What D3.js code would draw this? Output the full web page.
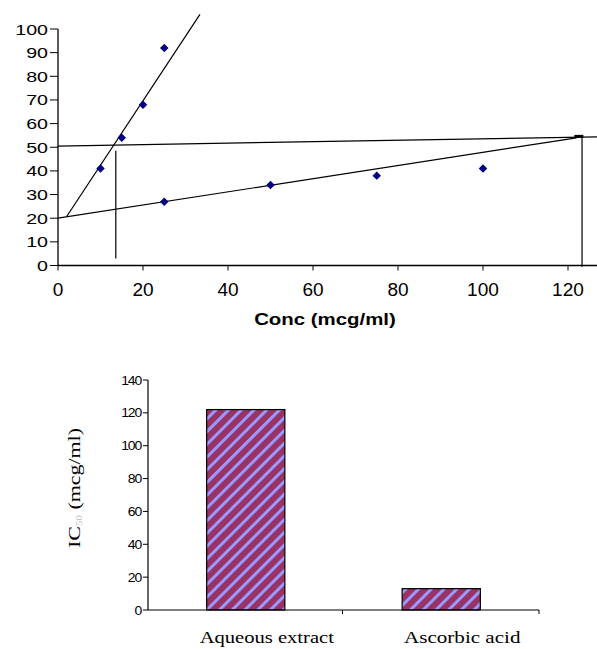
<!DOCTYPE html>
<html>
<head>
<meta charset="utf-8">
<script src="https://cdn.jsdelivr.net/npm/d3@7"></script>
<style>
  body { margin: 0; background: #fff; }
  svg { display: block; }
</style>
</head>
<body>
<div id="chart"></div>
<script>
// scatter data (conc mcg/ml vs % inhibition)
const concSteep = [10, 15, 20, 25];
const inhibSteep = [41, 54, 68, 92];
const concFlat = [25, 50, 75, 100];
const inhibFlat = [27, 34, 38, 41];

// lines drawn over the scatter, [x, y] in data units
const trendSteep = [[2, 20.6], [33.4, 106.2]];
const trendFlat = [[0, 20], [122, 54]];
const line50 = [[0, 50.5], [127, 54.4]];
const dropA = [[13.6, 48.5], [13.6, 3]];
const dropB = [[123.3, 54.5], [123.3, -0.5]];

const xTicks = [0, 20, 40, 60, 80, 100, 120];
const yTicks = [0, 10, 20, 30, 40, 50, 60, 70, 80, 90, 100];

// bar data
const samples = ["Aqueous extract", "Ascorbic acid"];
const ic50 = [122, 13];
const barTicks = [0, 20, 40, 60, 80, 100, 120, 140];

var width = 597
var height = 649

var svg = d3.select("#chart").append("svg")
            .attr("width", width)
            .attr("height", height)

// stretch text to a width
const fit = (sel, perChar) => sel
    .attr("textLength", function () { return this.textContent.length * perChar; })
    .attr("lengthAdjust", "spacingAndGlyphs");

// ---------- top chart ----------
const x = d3.scaleLinear().domain([0, 120]).range([58, 568]);
const y = d3.scaleLinear().domain([0, 100]).range([265.5, 29]);

const gTop = svg.append("g");

gTop.append("line")
    .attr("x1", x(0)).attr("x2", 597)
    .attr("y1", y(0)).attr("y2", y(0))
    .attr("stroke", "#000").attr("stroke-width", 1.3);
gTop.append("line")
    .attr("x1", x(0)).attr("x2", x(0))
    .attr("y1", y(0)).attr("y2", y(100))
    .attr("stroke", "#000").attr("stroke-width", 1.3);

gTop.selectAll(".ytick").data(yTicks).enter().append("line")
    .attr("x1", x(0) - 8).attr("x2", x(0))
    .attr("y1", d => y(d)).attr("y2", d => y(d))
    .attr("stroke", "#000");
gTop.selectAll(".xtick").data(xTicks).enter().append("line")
    .attr("x1", d => x(d)).attr("x2", d => x(d))
    .attr("y1", y(0)).attr("y2", y(0) + 5)
    .attr("stroke", "#000");

gTop.selectAll(".ylab").data(yTicks).enter().append("text")
    .attr("x", 48).attr("y", d => y(d) + 5.5)
    .attr("text-anchor", "end")
    .attr("font-family", "Liberation Sans, Arial, sans-serif")
    .attr("font-size", 15)
    .text(d => d)
    .call(fit, 10.9);

gTop.selectAll(".xlab").data(xTicks).enter().append("text")
    .attr("x", d => x(d)).attr("y", 296)
    .attr("text-anchor", "middle")
    .attr("font-family", "Liberation Sans, Arial, sans-serif")
    .attr("font-size", 19)
    .text(d => d)
    .call(fit, 10.6);

gTop.append("text")
    .attr("x", 325).attr("y", 325)
    .attr("text-anchor", "middle")
    .attr("font-family", "Liberation Sans, Arial, sans-serif")
    .attr("font-size", 16).attr("font-weight", "bold")
    .text("Conc (mcg/ml)")
    .call(fit, 10.9);

const path = d3.line().x(d => x(d[0])).y(d => y(d[1]));
[trendSteep, trendFlat, line50, dropA, dropB].forEach(seg => {
    gTop.append("path")
        .attr("d", path(seg))
        .attr("fill", "none")
        .attr("stroke", "#000")
        .attr("stroke-width", 1.2);
});
gTop.append("rect")
    .attr("x", x(121.5)).attr("y", y(54.6) - 1.5)
    .attr("width", 9).attr("height", 3)
    .attr("fill", "#000");

const pts = concSteep.map((c, i) => [c, inhibSteep[i]])
    .concat(concFlat.map((c, i) => [c, inhibFlat[i]]));
gTop.selectAll(".pt").data(pts).enter().append("path")
    .attr("d", d3.symbol(d3.symbolSquare, 36))
    .attr("transform", d => `translate(${x(d[0])},${y(d[1])}) rotate(45)`)
    .attr("fill", "#000080");

// ---------- bar chart ----------
const defs = svg.append("defs");
const pat = defs.append("pattern")
    .attr("id", "stripes")
    .attr("patternUnits", "userSpaceOnUse")
    .attr("width", 9).attr("height", 9)
    .attr("patternTransform", "rotate(45)");
pat.append("rect").attr("width", 9).attr("height", 9).attr("fill", "#993366");
pat.append("rect").attr("width", 3).attr("height", 9).attr("fill", "#9999ff");

const xb = d3.scaleBand().domain(samples).range([148, 539])
    .paddingInner(0.6).paddingOuter(0.3);
const yb = d3.scaleLinear().domain([0, 140]).range([610, 380]);

const gBot = svg.append("g");

gBot.selectAll(".bar").data(samples).enter().append("rect")
    .attr("x", d => xb(d))
    .attr("y", (d, i) => yb(ic50[i]))
    .attr("width", xb.bandwidth())
    .attr("height", (d, i) => yb(0) - yb(ic50[i]))
    .attr("fill", "url(#stripes)")
    .attr("stroke", "#000").attr("stroke-width", 1.2);

gBot.append("line")
    .attr("x1", 148).attr("x2", 539)
    .attr("y1", yb(0)).attr("y2", yb(0))
    .attr("stroke", "#000").attr("stroke-width", 1.2);
gBot.append("line")
    .attr("x1", 148).attr("x2", 148)
    .attr("y1", yb(0)).attr("y2", yb(140))
    .attr("stroke", "#000").attr("stroke-width", 1.2);

gBot.selectAll(".btick").data(barTicks).enter().append("line")
    .attr("x1", 143).attr("x2", 148)
    .attr("y1", d => yb(d)).attr("y2", d => yb(d))
    .attr("stroke", "#000");
[342.5, 539].forEach(px => {
    gBot.append("line")
        .attr("x1", px).attr("x2", px)
        .attr("y1", yb(0)).attr("y2", yb(0) + 4)
        .attr("stroke", "#000");
});

gBot.selectAll(".blab").data(barTicks).enter().append("text")
    .attr("x", 141).attr("y", d => yb(d) + 4.5)
    .attr("text-anchor", "end")
    .attr("font-family", "Liberation Sans, Arial, sans-serif")
    .attr("font-size", 12)
    .attr("letter-spacing", -1)
    .text(d => d)
    .call(fit, 6.6);

gBot.selectAll(".cat").data(samples).enter().append("text")
    .attr("x", d => xb(d) + xb.bandwidth() / 2 + 21)
    .attr("y", 643)
    .attr("text-anchor", "middle")
    .attr("font-family", "Liberation Serif, Times New Roman, serif")
    .attr("font-size", 16)
    .text(d => d)
    .call(fit, 8.95);

const ylab = gBot.append("text")
    .attr("transform", "translate(80,488) rotate(-90)")
    .attr("text-anchor", "middle")
    .attr("font-family", "Liberation Serif, Times New Roman, serif")
    .attr("font-size", 16)
    .attr("textLength", 120)
    .attr("lengthAdjust", "spacingAndGlyphs");
ylab.append("tspan").text("IC");
ylab.append("tspan").attr("font-size", 8).attr("fill", "#bbb").attr("dy", 2).text("50");
ylab.append("tspan").attr("dy", -2).text("   (mcg/ml)");
</script>
</body>
</html>
